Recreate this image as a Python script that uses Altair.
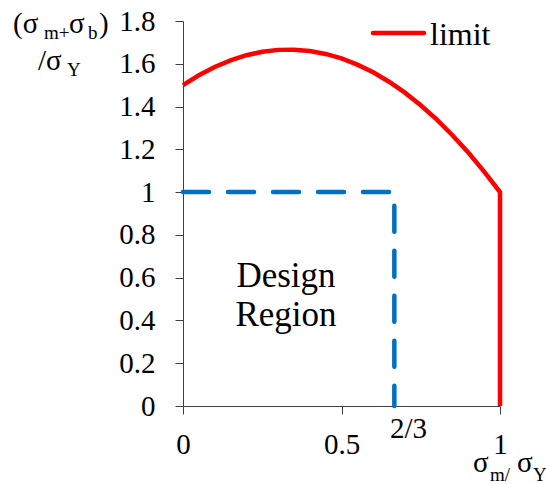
import altair as alt
import pandas as pd

# limit curve (x = sigma_m/sigma_Y, y = (sigma_m+sigma_b)/sigma_Y)
limit_x = [0, 0.05, 0.1, 0.15, 0.2, 0.25, 0.3, 0.35, 0.4, 0.45, 0.5, 0.55, 0.6,
           0.65, 0.7, 0.75, 0.8, 0.85, 0.9, 0.95, 1.0, 1.0]
limit_y = [1.5, 1.546, 1.585, 1.616, 1.64, 1.656, 1.665, 1.666, 1.66, 1.646, 1.625,
           1.596, 1.56, 1.516, 1.465, 1.406, 1.34, 1.266, 1.185, 1.096, 1.0, 0.0]

# design region boundary
design_x = [0, 0.6667, 0.6667]
design_y = [1, 1, 0]

x_ticks = [0, 0.5, 1]
y_ticks = [0, 0.2, 0.4, 0.6, 0.8, 1.0, 1.2, 1.4, 1.6, 1.8]

FONT = "Liberation Serif"

limit_df = pd.DataFrame({"x": limit_x, "y": limit_y, "o": list(range(len(limit_x)))})
design_df = pd.DataFrame({"x": design_x, "y": design_y, "o": list(range(len(design_x)))})

xs = alt.Scale(domain=[0, 1], nice=False, zero=False)
ys = alt.Scale(domain=[0, 1.8], nice=False, zero=False)

axis_style = dict(labelFont=FONT, labelFontSize=29, labelColor="black", title=None, grid=False,
                  domainColor="#404040", tickColor="#404040", tickSize=8)
xaxis = alt.Axis(values=x_ticks, format=".1~f", labelFlush=False, labelPadding=16, **axis_style)
yaxis = alt.Axis(values=y_ticks, format=".1~f", labelPadding=20, **axis_style)

design_line = alt.Chart(design_df).mark_line(
    color="#0070C0", strokeWidth=4.5, strokeDash=[26, 19], strokeCap="round"
).encode(
    x=alt.X("x:Q", scale=xs, axis=xaxis),
    y=alt.Y("y:Q", scale=ys, axis=yaxis),
    order="o:Q",
)

limit_line = alt.Chart(limit_df).mark_line(
    color="#FF0000", strokeWidth=4.5
).encode(
    x=alt.X("x:Q", scale=xs),
    y=alt.Y("y:Q", scale=ys),
    order="o:Q",
)


def label(text, px, py, size, align="left"):
    return alt.Chart(pd.DataFrame({"t": [text], "k": [f"{px}_{py}"]})).mark_text(
        font=FONT, fontSize=size, align=align, baseline="alphabetic"
    ).encode(x=alt.value(px), y=alt.value(py), text="t:N")


# y title pieces: (σ m+ σ b) / σ Y
y_title = [
    ("(σ", -170, 12, 29), ("m+", -139, 18, 19), ("σ", -114, 12, 29),
    ("b", -95, 18, 19), (")", -84, 12, 29),
    ("/σ", -145, 49, 29), ("Y", -116, 55, 19),
]
x_title = [("σ", 290, 451, 29), ("m/", 307, 460, 19), ("σ", 334, 451, 29), ("Y", 350, 460, 19)]

texts = [label(t, px, py, s) for t, px, py, s in y_title + x_title]
texts.append(label("2/3", 207, 417, 29))
texts.append(label("Design", 103, 266, 35, "center"))
texts.append(label("Region", 103, 305, 35, "center"))
texts.append(label("limit", 247, 24, 32))

legend_line = alt.Chart(pd.DataFrame({"t": ["legend"]})).mark_rule(
    color="#FF0000", strokeWidth=4.5, strokeCap="round"
).encode(x=alt.value(190), x2=alt.value(241), y=alt.value(12))

chart = alt.layer(design_line, limit_line, legend_line, *texts).properties(
    width=317, height=385,
    autosize=alt.AutoSizeParams(type="none"),
    padding={"left": 183, "top": 21, "right": 46, "bottom": 78},
).configure(font=FONT).configure_view(stroke=None)

chart.save("out.html", embed_options={"renderer": "svg", "actions": False})
